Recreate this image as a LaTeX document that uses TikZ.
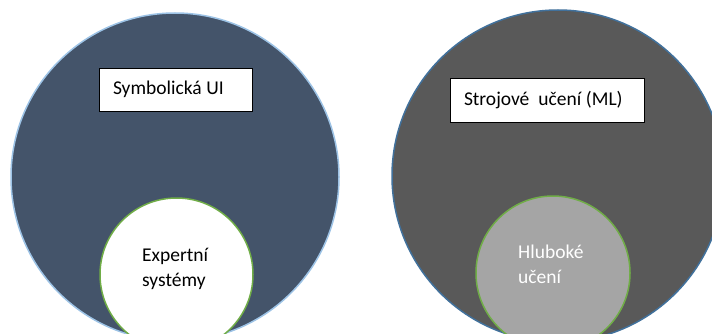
\documentclass[tikz,border=0pt]{standalone}
\usepackage{fontspec}
\setmainfont{Carlito}[WordSpace={1,0,0}]
\definecolor{symfill}{HTML}{44546A}
\definecolor{symline}{HTML}{9DC3E6}
\definecolor{mlfill}{HTML}{595959}
\definecolor{mlline}{HTML}{41719C}
\definecolor{ingreen}{HTML}{70AD47}
\definecolor{dlfill}{HTML}{A5A5A5}
\tikzset{
  bigcircle/.style={circle, inner sep=0pt, minimum size=#1, line width=1.5pt},
  smallcircle/.style={circle, inner sep=0pt, minimum size=154pt, draw=ingreen, line width=1.5pt},
  labelbox/.style={draw=black, fill=white, line width=0.9pt, align=left, inner ysep=0pt,
    inner xsep=14pt, font=\fontsize{19.5}{24}\selectfont},
  circletext/.style={align=left, inner sep=0pt, anchor=base west, font=\fontsize{19.5}{25}\selectfont}
}
\begin{document}
\begin{tikzpicture}[x=1pt,y=-1pt]
\useasboundingbox (0,0) rectangle (712,334);
\clip (0,0) rectangle (712,334);
\fill[white] (0,0) rectangle (712,334);
% left
\node[bigcircle=328pt, fill=symfill, draw=symline] (sym) at (175,177) {};
\node[labelbox, text width=125pt, minimum height=43pt] (symlabel) at (175.5,89.5) {Symbolická\hspace{4.6pt}UI};
\node[smallcircle, fill=white, minimum size=153pt] (exp) at (176.5,274.5) {};
\node[circletext, text=black] (exptext) at (142,286.5) {Expertní\\systémy};
% right
\node[bigcircle=332pt, fill=mlfill, draw=mlline] (ml) at (558,176) {};
\node[labelbox, text width=166pt, minimum height=44pt] (mllabel) at (547,100) {Strojové\hspace{9pt}učení\hspace{4.6pt}(ML)};
\node[smallcircle, fill=dlfill] (dl) at (553,273) {};
\node[circletext, text=white] (dltext) at (518,283) {Hluboké\\učení};
\end{tikzpicture}
\end{document}
